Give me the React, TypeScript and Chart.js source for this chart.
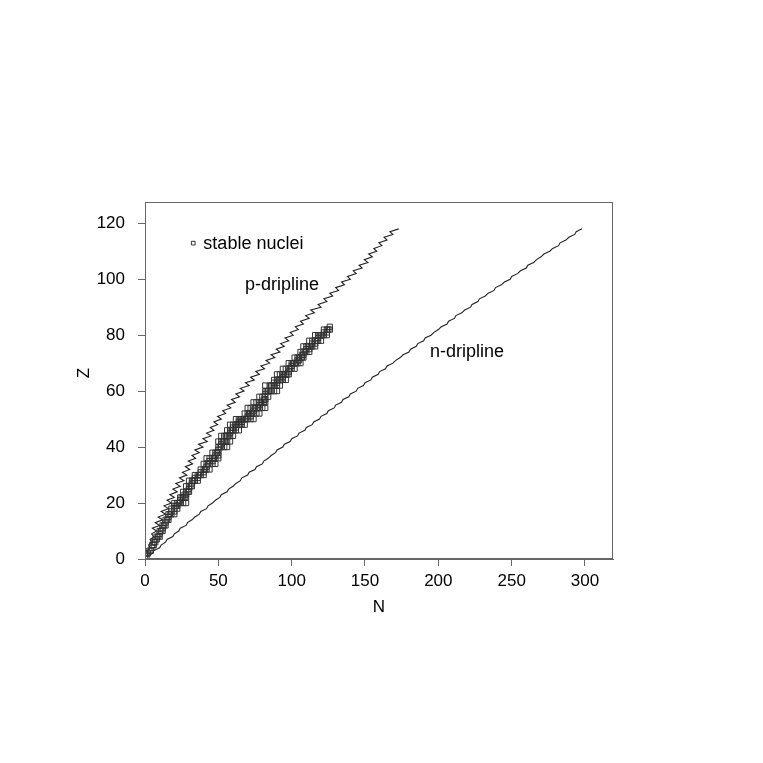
import React, { useEffect, useRef } from 'react';
import { Chart, registerables } from 'chart.js';

Chart.register(...registerables);

const FONT = '"Liberation Sans", Arial, Helvetica, sans-serif';

// Stable nuclei: proton number Z and the neutron numbers N of its stable isotopes
const stableZ = [
  1, 2, 3, 4, 5, 6, 7, 8, 9, 10, 11, 12, 13, 14, 15, 16, 17, 18, 19, 20,
  21, 22, 23, 24, 25, 26, 27, 28, 29, 30, 31, 32, 33, 34, 35, 36, 37, 38, 39, 40,
  41, 42, 44, 45, 46, 47, 48, 49, 50, 51, 52, 53, 54, 55, 56, 57, 58, 59, 60, 62,
  63, 64, 65, 66, 67, 68, 69, 70, 71, 72, 73, 74, 75, 76, 77, 78, 79, 80, 81, 82, 83,
];
const stableN: number[][] = [
  [0, 1], [1, 2], [3, 4], [5], [5, 6], [6, 7], [7, 8], [8, 9, 10], [10], [10, 11, 12],
  [12], [12, 13, 14], [14], [14, 15, 16], [16], [16, 17, 18, 20], [18, 20], [18, 20, 22], [20, 21, 22], [20, 22, 23, 24, 26, 28],
  [24], [24, 25, 26, 27, 28], [27, 28], [26, 28, 29, 30], [30], [28, 30, 31, 32], [32], [30, 32, 33, 34, 36], [34, 36], [34, 36, 37, 38, 40],
  [38, 40], [38, 40, 41, 42, 44], [42], [40, 42, 43, 44, 46, 48], [44, 46], [42, 44, 46, 47, 48, 50], [48, 50], [46, 48, 49, 50], [50], [50, 51, 52, 54, 56],
  [52], [50, 52, 53, 54, 55, 56, 58], [52, 54, 55, 56, 57, 58, 60], [58], [56, 58, 59, 60, 62, 64], [60, 62], [58, 60, 62, 63, 64, 65, 66, 68], [64, 66],
  [62, 64, 65, 66, 67, 68, 69, 70, 72, 74], [70, 72], [68, 70, 71, 72, 73, 74, 76, 78], [74], [70, 72, 74, 75, 76, 77, 78, 80, 82], [78],
  [74, 76, 78, 79, 80, 81, 82], [81, 82], [78, 80, 82, 84], [82], [82, 83, 84, 85, 86, 88, 90], [82, 85, 86, 87, 88, 90, 92],
  [88, 90], [88, 90, 91, 92, 93, 94, 96], [94], [90, 92, 94, 95, 96, 97, 98], [98], [94, 96, 98, 99, 100, 102], [100],
  [98, 100, 101, 102, 103, 104, 106], [104, 105], [102, 104, 105, 106, 107, 108], [107, 108], [106, 108, 109, 110, 112], [110, 112],
  [108, 110, 111, 112, 113, 114, 116], [114, 116], [112, 114, 116, 117, 118, 120], [118], [116, 118, 119, 120, 121, 122, 124],
  [122, 124], [122, 124, 125, 126], [126],
];

// Drip lines: Z and the corresponding N
const dripZ = [
  1, 2, 3, 4, 5, 6, 7, 8, 9,
  10, 11, 12, 13, 14, 15, 16, 17, 18, 19,
  20, 21, 22, 23, 24, 25, 26, 27, 28, 29,
  30, 31, 32, 33, 34, 35, 36, 37, 38, 39,
  40, 41, 42, 43, 44, 45, 46, 47, 48, 49,
  50, 51, 52, 53, 54, 55, 56, 57, 58, 59,
  60, 61, 62, 63, 64, 65, 66, 67, 68, 69,
  70, 71, 72, 73, 74, 75, 76, 77, 78, 79,
  80, 81, 82, 83, 84, 85, 86, 87, 88, 89,
  90, 91, 92, 93, 94, 95, 96, 97, 98, 99,
  100, 101, 102, 103, 104, 105, 106, 107, 108, 109,
  110, 111, 112, 113, 114, 115, 116, 117, 118,
];
const pDriplineN = [
  1, 2, 1.5, 3, 2.5, 4.5, 3.5, 6, 4.5,
  8, 5, 10, 7, 12, 9, 14, 11, 16, 13,
  18, 15, 20, 17, 22, 19, 24, 21, 26.5, 23.5,
  28.5, 25.5, 30.5, 27.5, 32.5, 29.5, 34.5, 32, 37, 34,
  39.5, 36.5, 42.5, 39.5, 45, 42, 47, 44.5, 49.5, 47,
  52, 49.5, 55, 53, 58.5, 56, 61.5, 59, 64.5, 62,
  67.5, 65, 71, 68.5, 74.5, 72, 78, 75.5, 81.5, 79,
  85, 82.5, 88.5, 86, 92, 89.5, 95, 92.5, 98, 95.5,
  101, 99, 104.5, 102.5, 108, 106, 112, 109.5, 115.5, 113,
  120, 118, 124, 122, 128, 126, 132, 130, 136, 134,
  140, 138, 144, 142, 148, 146, 152, 149.5, 155, 152.5,
  158, 156, 161.5, 159.5, 165, 163, 169, 167, 173,
];
const nDriplineN = [
  2, 5, 6, 10, 11, 14, 15, 19, 20,
  23, 24, 28, 29, 32, 34, 37, 38, 42, 43,
  46, 48, 51, 52, 56, 57, 60, 62, 65, 66,
  70, 71, 75, 76, 80, 81, 84, 86, 89, 90,
  94, 95, 99, 100, 104, 105, 109, 110, 114, 115,
  119, 120, 124, 125, 129, 130, 134, 135, 139, 140,
  144, 145, 149, 150, 154, 155, 159, 160, 164, 165,
  169, 171, 174, 176, 180, 181, 185, 186, 190, 191,
  195, 197, 200, 202, 206, 207, 211, 212, 216, 218,
  222, 223, 227, 228, 232, 234, 238, 239, 243, 245,
  249, 250, 254, 256, 260, 261, 265, 267, 270, 272,
  276, 278, 282, 283, 287, 289, 293, 294, 298,
];

// Axes
const xMin = 0;
const xMax = 319.1;
const yMin = 0;
const yMax = 127.6;
const xTickStep = 50;
const yTickStep = 20;
const xTitle = 'N';
const yTitle = 'Z';

// In-plot text labels (data coordinates, baseline-left)
const labelTexts = ['stable nuclei', 'p-dripline', 'n-dripline'];
const labelN = [39.8, 68.2, 194.3];
const labelZ = [110.9, 96.2, 72.1];
const legendMarkerN = [32.9];
const legendMarkerZ = [112.9];

const LINE_COLOR = '#222';
const BOX_COLOR = '#666';

const overlayPlugin = {
  id: 'overlay',
  afterDraw(chart: any) {
    const { ctx, chartArea: ca, scales } = chart;
    ctx.save();
    // plot box
    ctx.strokeStyle = BOX_COLOR;
    ctx.lineWidth = 1;
    ctx.strokeRect(Math.round(ca.left) + 0.5, Math.round(ca.top) + 0.5, Math.round(ca.right - ca.left) - 1, Math.round(ca.bottom - ca.top) - 1);
    // labels
    ctx.fillStyle = '#000';
    ctx.font = `18px ${FONT}`;
    ctx.textAlign = 'left';
    ctx.textBaseline = 'alphabetic';
    labelTexts.forEach((t, i) => {
      ctx.fillText(t, scales.x.getPixelForValue(labelN[i]), scales.y.getPixelForValue(labelZ[i]));
    });
    // y title
    ctx.font = `17px ${FONT}`;
    ctx.textAlign = 'center';
    ctx.textBaseline = 'middle';
    ctx.translate(84, 373);
    ctx.rotate(-Math.PI / 2);
    ctx.fillText(yTitle, 0, 0);
    ctx.restore();
  },
};

export default function App() {
  const canvasRef = useRef<HTMLCanvasElement>(null);

  useEffect(() => {
    const canvas = canvasRef.current;
    if (!canvas) return;

    const stablePoints: { x: number; y: number }[] = [];
    stableZ.forEach((z, i) => {
      stableN[i].forEach((n) => stablePoints.push({ x: n, y: z }));
    });
    const pPoints = dripZ.map((z, i) => ({ x: pDriplineN[i], y: z }));
    const nPoints = dripZ.map((z, i) => ({ x: nDriplineN[i], y: z }));
    const markerPoints = legendMarkerN.map((n, i) => ({ x: n, y: legendMarkerZ[i] }));

    const tickFont = { family: FONT, size: 17 };

    const chart = new Chart(canvas, {
      type: 'scatter',
      data: {
        datasets: [
          {
            label: 'stable nuclei',
            data: stablePoints,
            pointStyle: 'rect',
            pointRadius: 3.7,
            borderColor: '#333',
            backgroundColor: 'rgba(0,0,0,0)',
            borderWidth: 1,
            showLine: false,
          },
          {
            label: 'p-dripline',
            data: pPoints,
            showLine: true,
            pointRadius: 0,
            borderColor: LINE_COLOR,
            borderWidth: 1.1,
            tension: 0,
            fill: false,
          },
          {
            label: 'n-dripline',
            data: nPoints,
            showLine: true,
            pointRadius: 0,
            borderColor: LINE_COLOR,
            borderWidth: 1.1,
            tension: 0,
            fill: false,
          },
          {
            label: 'legend marker',
            data: markerPoints,
            pointStyle: 'rect',
            pointRadius: 2.6,
            borderColor: '#333',
            backgroundColor: 'rgba(0,0,0,0)',
            borderWidth: 1,
            showLine: false,
          },
        ],
      } as any,
      options: {
        responsive: false,
        animation: false,
        devicePixelRatio: 1,
        events: [],
        layout: { padding: { top: 202, right: 150, bottom: 0, left: 0 } },
        plugins: {
          legend: { display: false },
          tooltip: { enabled: false },
        },
        scales: {
          x: {
            type: 'linear',
            position: 'bottom',
            min: xMin,
            max: xMax,
            afterFit: (s: any) => {
              s.height = 204;
            },
            ticks: {
              stepSize: xTickStep,
              includeBounds: false,
              font: tickFont,
              color: '#000',
              padding: 5,
              maxRotation: 0,
              autoSkip: false,
            },
            grid: {
              drawOnChartArea: false,
              drawTicks: true,
              tickLength: 7,
              color: BOX_COLOR,
            },
            border: { display: true, color: BOX_COLOR },
            title: {
              display: true,
              text: xTitle,
              color: '#000',
              font: { family: FONT, size: 17 },
              padding: { top: 0, bottom: 145 },
            },
          },
          y: {
            type: 'linear',
            position: 'left',
            min: yMin,
            max: yMax,
            afterFit: (s: any) => {
              s.width = 145;
            },
            ticks: {
              stepSize: yTickStep,
              includeBounds: false,
              font: tickFont,
              color: '#000',
              padding: 13,
              autoSkip: false,
            },
            grid: {
              drawOnChartArea: false,
              drawTicks: true,
              tickLength: 7,
              color: BOX_COLOR,
            },
            border: { display: true, color: BOX_COLOR },
            title: { display: false },
          },
        },
      } as any,
      plugins: [overlayPlugin],
    });

    return () => chart.destroy();
  }, []);

  return (
    <div style={{ position: 'absolute', left: 0, top: 0, width: 763, height: 763, background: '#fff' }}>
      <canvas ref={canvasRef} width={763} height={763} style={{ display: 'block' }} />
    </div>
  );
}
